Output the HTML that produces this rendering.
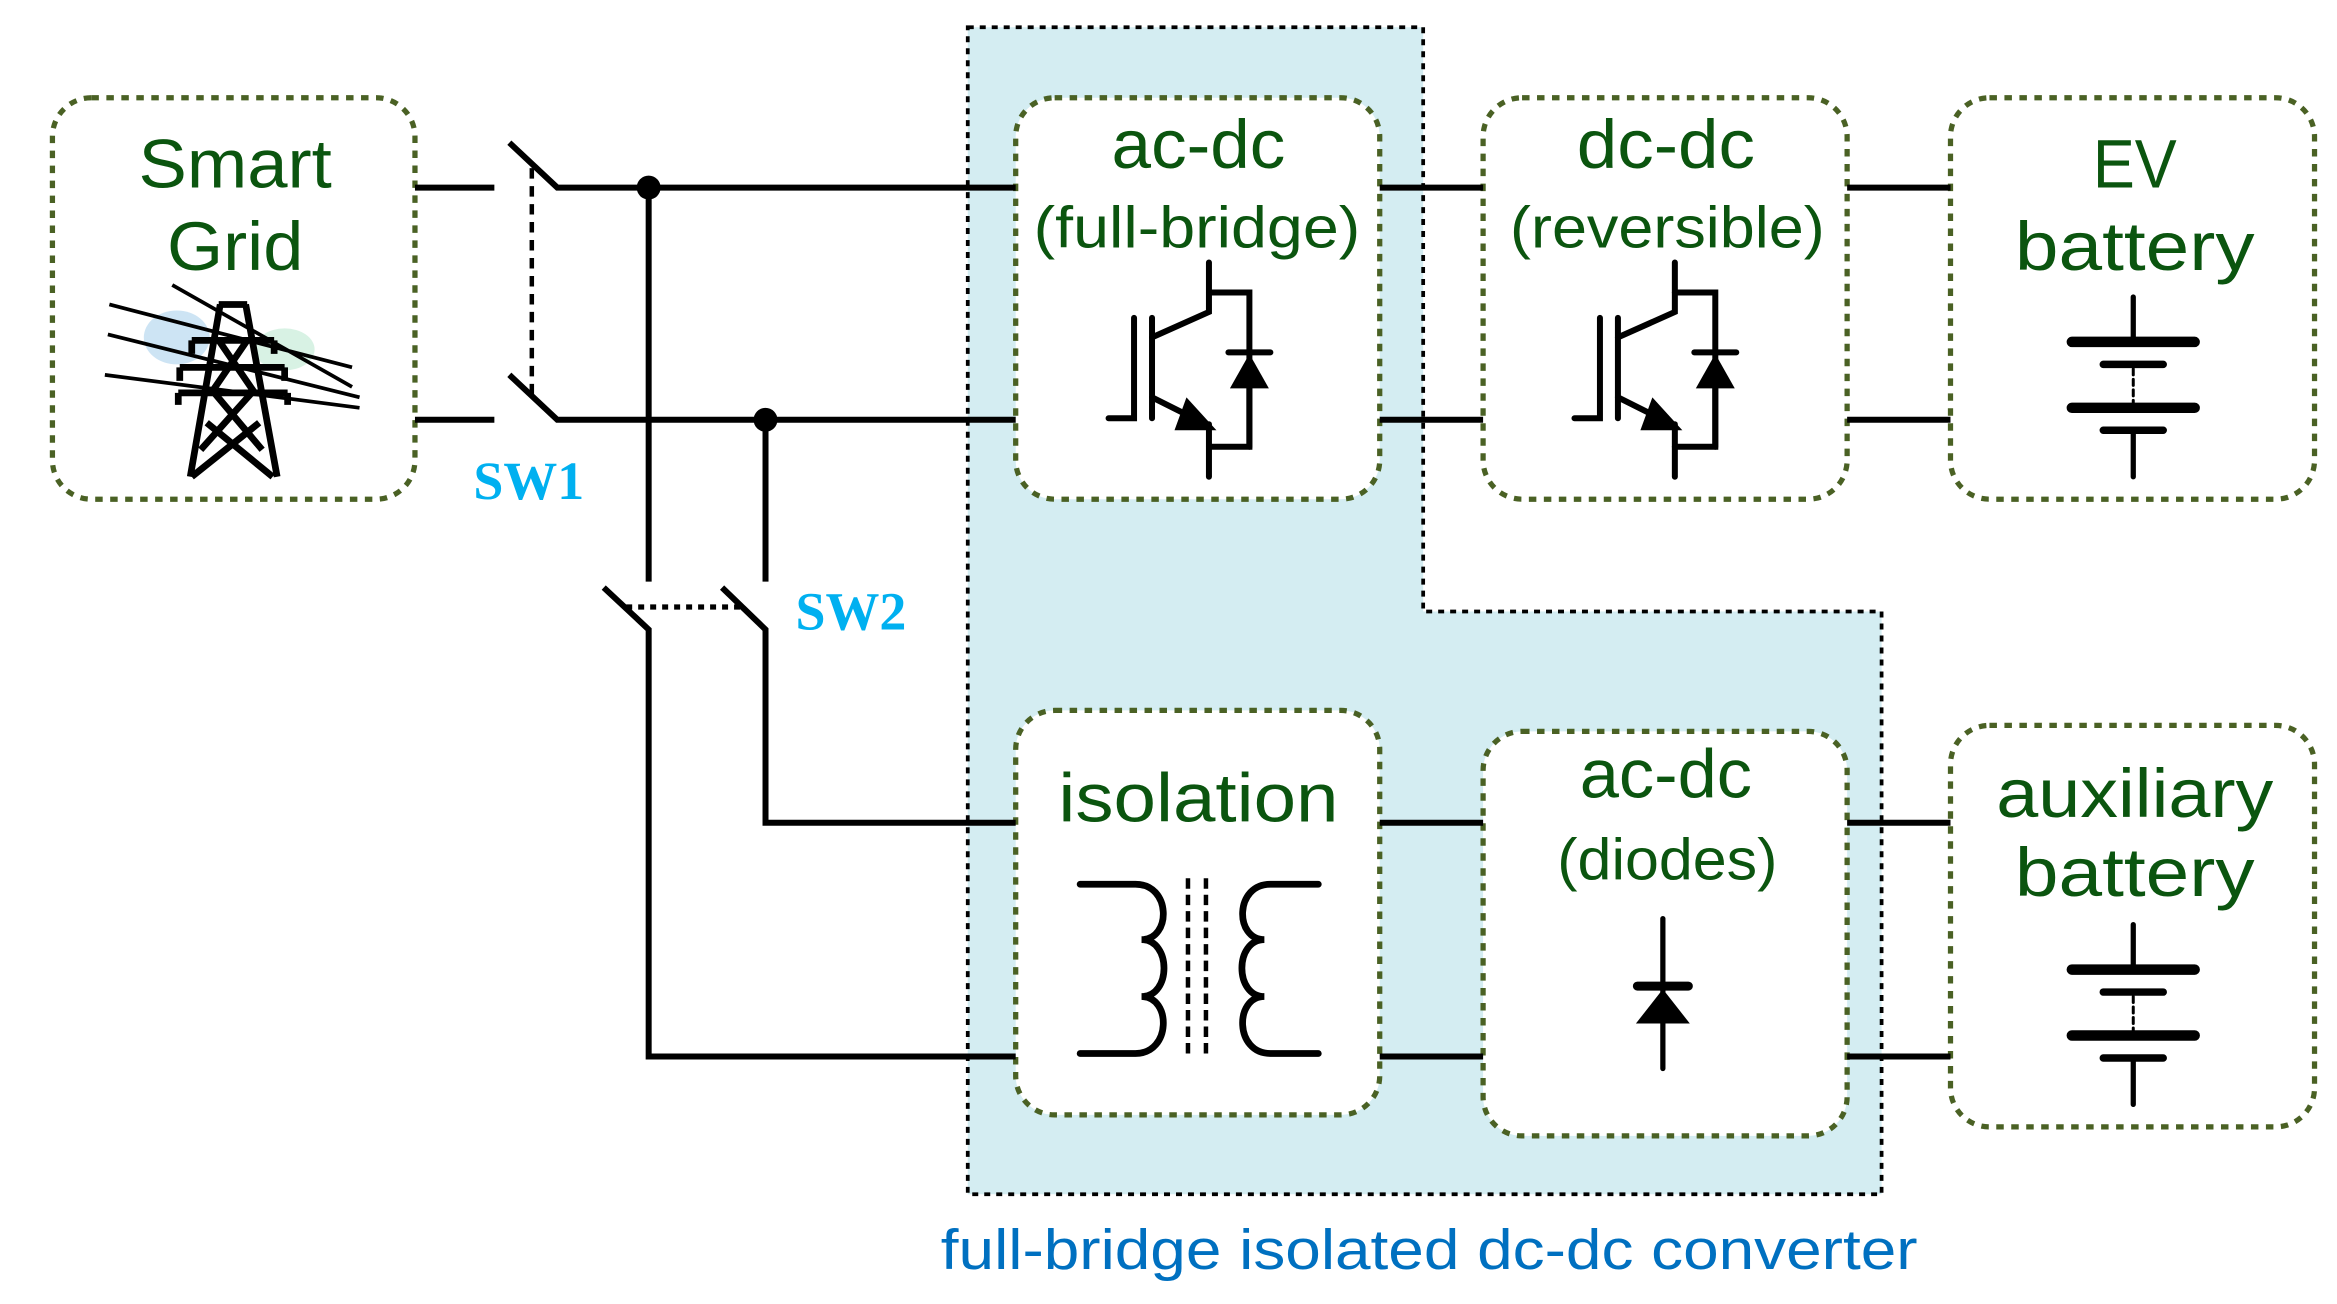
<!DOCTYPE html>
<html><head><meta charset="utf-8"><style>
html,body{margin:0;padding:0;background:#fff;}
svg{display:block;}
text{font-family:"Liberation Sans",sans-serif;}
</style></head><body>
<svg width="2337" height="1304" viewBox="0 0 1560 870" xmlns="http://www.w3.org/2000/svg">
<path d="M646,18 H950 V408 H1256 V797 H646 Z" fill="#d4edf2" stroke="#000" stroke-width="2.5" stroke-dasharray="4,4"/>
<g fill="#fff" stroke="#4a6124" stroke-width="3.5" stroke-dasharray="5,5">
<rect x="35" y="65" width="242" height="268" rx="26"/>
<rect x="678" y="65" width="243" height="268" rx="26"/>
<rect x="990" y="65" width="243" height="268" rx="26"/>
<rect x="1302" y="65" width="243" height="268" rx="26"/>
<rect x="678" y="474" width="243" height="270" rx="26"/>
<rect x="990" y="488" width="243" height="270" rx="26"/>
<rect x="1302" y="484" width="243" height="268" rx="26"/>
</g>
<g stroke="#000" stroke-width="4" fill="none">
<path d="M277,125 H330 M340,95 L372,125 H678"/>
<path d="M277,280 H330 M340,250 L372,280 H678"/>
<path d="M921,125 H990 M921,280 H990 M1233,125 H1302 M1233,280 H1302"/>
<path d="M921,549 H990 M921,705 H990 M1233,549 H1302 M1233,705 H1302"/>
<path d="M433,125 V388 M403,392 L433,420 V705 H678"/>
<path d="M511,280 V388 M482,392 L511,420 V549 H678"/>
</g>
<path d="M355,112 V268" stroke="#000" stroke-width="3" stroke-dasharray="7,5"/>
<path d="M418,405 H495" stroke="#000" stroke-width="3.5" stroke-dasharray="4,4"/>
<circle cx="433" cy="125" r="8"/>
<circle cx="511" cy="280" r="8"/>
<g fill="#00b0f0" font-weight="bold" font-size="36">
<text x="316" y="333" style="font-family:'Liberation Serif',serif">SW1</text>
<text x="531" y="420" style="font-family:'Liberation Serif',serif">SW2</text>
</g>
<g fill="#0b550f" font-size="46" text-anchor="middle">
<text x="157" y="125" textLength="129" lengthAdjust="spacingAndGlyphs">Smart</text>
<text x="157" y="180" textLength="91" lengthAdjust="spacingAndGlyphs">Grid</text>
<text x="800" y="112" textLength="116" lengthAdjust="spacingAndGlyphs">ac-dc</text>
<text x="1112" y="112" textLength="119" lengthAdjust="spacingAndGlyphs">dc-dc</text>
<text x="1425" y="125" textLength="56" lengthAdjust="spacingAndGlyphs">EV</text>
<text x="1425" y="180" textLength="160" lengthAdjust="spacingAndGlyphs">battery</text>
<text x="800" y="548" textLength="187" lengthAdjust="spacingAndGlyphs">isolation</text>
<text x="1112" y="532" textLength="115" lengthAdjust="spacingAndGlyphs">ac-dc</text>
<text x="1425" y="545" textLength="185" lengthAdjust="spacingAndGlyphs">auxiliary</text>
<text x="1425" y="598" textLength="160" lengthAdjust="spacingAndGlyphs">battery</text>
</g>
<g fill="#0b550f" font-size="39" text-anchor="middle">
<text x="799" y="165" textLength="218" lengthAdjust="spacingAndGlyphs">(full-bridge)</text>
<text x="1113" y="165" textLength="210" lengthAdjust="spacingAndGlyphs">(reversible)</text>
<text x="1113" y="587" textLength="147" lengthAdjust="spacingAndGlyphs">(diodes)</text>
</g>
<text x="954" y="847" fill="#0070c0" font-size="38" text-anchor="middle" textLength="652" lengthAdjust="spacingAndGlyphs">full-bridge isolated dc-dc converter</text>
<g stroke="#000" stroke-width="4" fill="none" stroke-linecap="round">
<path d="M740,279 H757 V212"/>
<path d="M769,212 V279"/>
<path d="M769,225 L807,208 V175"/>
<path d="M807,195 H834 V298 H807"/>
<path d="M769,265 L795,278"/>
<path d="M807,283 V318"/>
<path d="M820,235 H848"/>
<path d="M834,298 V259"/>
</g>
<g fill="#000">
<polygon points="792,265 812,287 784,287"/>
<polygon points="834,236 821,259 847,259"/>
</g>
<g transform="translate(311,0)">
<g stroke="#000" stroke-width="4" fill="none" stroke-linecap="round">
<path d="M740,279 H757 V212"/>
<path d="M769,212 V279"/>
<path d="M769,225 L807,208 V175"/>
<path d="M807,195 H834 V298 H807"/>
<path d="M769,265 L795,278"/>
<path d="M807,283 V318"/>
<path d="M820,235 H848"/>
<path d="M834,298 V259"/>
</g>
<g fill="#000">
<polygon points="792,265 812,287 784,287"/>
<polygon points="834,236 821,259 847,259"/>
</g>
</g>
<g stroke="#000" stroke-linecap="round">
<path d="M1424,198 V228 M1424,287 V318" stroke-width="3.5"/>
<path d="M1383,228 H1465 M1383,272 H1465" stroke-width="7"/>
<path d="M1404,243 H1444 M1404,287 H1444" stroke-width="5"/>
<path d="M1424,246 V270" stroke-width="2" stroke-dasharray="4,3"/>
</g>
<g stroke="#000" stroke-linecap="round" transform="translate(0,419)">
<path d="M1424,198 V228 M1424,287 V318" stroke-width="3.5"/>
<path d="M1383,228 H1465 M1383,272 H1465" stroke-width="7"/>
<path d="M1404,243 H1444 M1404,287 H1444" stroke-width="5"/>
<path d="M1424,246 V270" stroke-width="2" stroke-dasharray="4,3"/>
</g>
<g stroke="#000" stroke-width="3.5" stroke-linecap="round">
<path d="M1110,613 V713"/>
<path d="M1093,658 H1127" stroke-width="6"/>
</g>
<polygon points="1110,660 1092,683 1128,683" fill="#000"/>
<g stroke="#000" stroke-width="4.5" fill="none" stroke-linecap="round">
<path d="M721,590 H758 C782,590 782,627 762,627 C782,627 782,665 762,665 C782,665 782,703 758,703 H721"/>
<path d="M880,590 H848 C824,590 824,627 844,627 C824,627 824,665 844,665 C824,665 824,703 848,703 H880"/>
</g>
<path d="M793,586 V707 M805,586 V707" stroke="#000" stroke-width="3" stroke-dasharray="7,4"/>
<ellipse cx="118" cy="225" rx="22" ry="18" fill="#b8d8f0" opacity="0.7"/>
<ellipse cx="190" cy="233" rx="20" ry="14" fill="#c8ecd8" opacity="0.7"/>
<g stroke="#000" stroke-width="2.5" fill="none">
<path d="M73,203 L235,245 M72,223 L240,265 M70,250 L240,272 M115,190 L235,258"/>
</g>
<g stroke="#000" stroke-width="4.5" fill="none">
<path d="M146,203 H165 M147,203 L127,318 M164,203 L185,318"/>
<path d="M128,227 H183 M120,245 H190 M119,262 H192"/>
<path d="M128,227 V236 M183,227 V236 M120,245 V254 M190,245 V254 M119,262 V270 M192,262 V270"/>
<path d="M143,262 L175,300 M168,262 L134,300 M138,282 L182,318 M173,282 L128,318 M146,227 L170,262 M165,227 L141,262"/>
</g>
</svg>
</body></html>
